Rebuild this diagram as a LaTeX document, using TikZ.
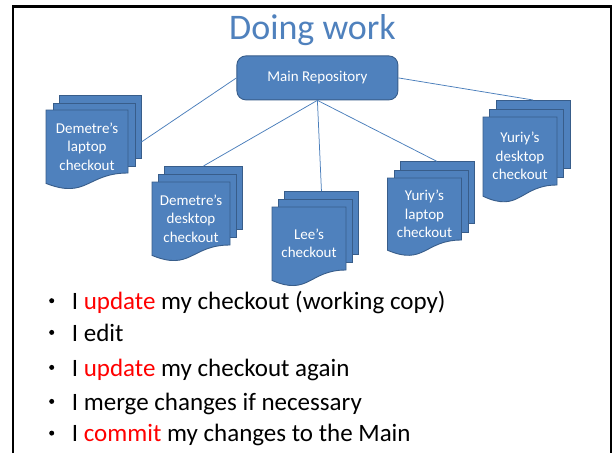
\documentclass[tikz,border=0pt]{standalone}
\usepackage{fontspec}
\setmainfont{Carlito}
\definecolor{docblue}{RGB}{79,129,189}
\definecolor{docedge}{RGB}{56,93,138}
\definecolor{linkblue}{RGB}{74,126,187}
\definecolor{titleblue}{RGB}{79,129,189}
\tikzset{
  page/.style={fill=docblue, draw=docedge, line width=0.9pt},
  conn/.style={draw=linkblue, line width=0.75pt},
  doctext/.style={text=white, align=center, font=\fontsize{15}{18.5}\selectfont, inner sep=0pt},
  bultext/.style={anchor=base west, inner sep=0pt, font=\fontsize{25}{29}\selectfont},
  buldot/.style={fill=black, circle, inner sep=0pt, minimum size=5pt},
  mainbox/.style={fill=docblue, draw=docedge, line width=0.9pt, rounded corners=9pt,
    minimum width=161pt, minimum height=44pt, text=white, font=\fontsize{15}{18}\selectfont},
  frameline/.style={draw=black, line width=2.5pt}
}
\newcommand\mdoc[8]{%
  \pgfmathsetmacro\mdGW{#4+2*#6}%
  \pgfmathsetmacro\mdGH{2*#7+1.247*#5}%
  \node[page, minimum width=#4pt, minimum height=#5pt, anchor=north west, inner sep=0pt] (#1-back) at ({#2+2*#6},{#3-2*#7}) {};
  \node[page, minimum width=#4pt, minimum height=#5pt, anchor=north west, inner sep=0pt] (#1-mid) at ({#2+#6},{#3-#7}) {};
  \draw[page] (#2,#3) -- ({#2+#4},#3) -- ({#2+#4},{#3+#5}) .. controls ({#2+0.5*#4},{#3+#5}) and ({#2+0.5*#4},{#3+1.42*#5}) .. (#2,{#3+1.165*#5}) -- cycle;
  \node[doctext] (#1-text) at ({#2+0.5*#4},{#3+0.5*#5+5}) {#8};
  \node[minimum width=\mdGW pt, minimum height=\mdGH pt, anchor=north west, inner sep=0pt] (#1) at (#2,{#3-2*#7}) {};
}
\begin{document}
\begin{tikzpicture}[x=1pt, y=-1pt]
\useasboundingbox[fill=white] (0,0) rectangle (613,453);
\draw[frameline] (13,453) -- (13,6.5) -- (611,6.5) -- (611,453);
\node[anchor=base, inner sep=0pt, text=titleblue, font=\fontsize{36}{43}\selectfont] (title) at (312.5,39) {Doing work};
\node[mainbox] (main) at (317.4,77.9) {Main Repository};
\mdoc{dl}{46}{110}{82}{63}{6.5}{7.5}{Demetre’s\\laptop\\checkout}
\mdoc{dd}{152}{182}{78}{63}{6}{8}{Demetre’s\\desktop\\checkout}
\mdoc{lee}{272}{207}{74}{63}{6}{8}{Lee’s\\checkout}
\mdoc{yl}{387.5}{178}{74}{62}{6}{8.3}{Yuriy’s\\laptop\\checkout}
\mdoc{yd}{483}{117}{74}{68}{6.3}{8.5}{Yuriy’s\\desktop\\checkout}
\draw[conn] (main.west) -- (dl.east);
\draw[conn] (main.south) -- (dd-back.north);
\draw[conn] (main.south) -- (lee-back.north);
\draw[conn] (main.south) -- (yl-back.north);
\draw[conn] (main.east) -- (yd-back.north);
\node[buldot] (b1) at (51.7,300.7) {};
\node[bultext] (t1) at (71.7,309.3) {I \textcolor{red}{update} my checkout (working copy)};
\node[buldot] (b2) at (51.7,332.4) {};
\node[bultext] (t2) at (71.7,341) {I edit};
\node[buldot] (b3) at (51.7,367.4) {};
\node[bultext] (t3) at (71.7,376) {I \textcolor{red}{update} my checkout again};
\node[buldot] (b4) at (51.7,401.4) {};
\node[bultext] (t4) at (71.7,410) {I merge changes if necessary};
\node[buldot] (b5) at (51.7,433.1) {};
\node[bultext] (t5) at (71.7,441.7) {I \textcolor{red}{commit} my changes to the Main};
\end{tikzpicture}
\end{document}
